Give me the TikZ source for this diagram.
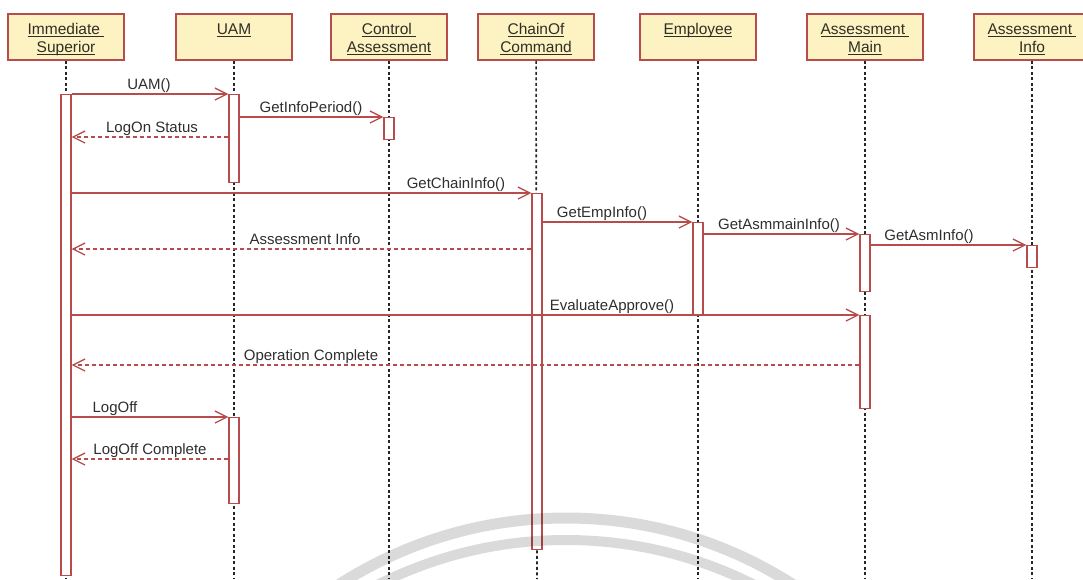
\documentclass[tikz,border=0pt]{standalone}
\usepackage{fontspec}
\setmainfont{Liberation Sans}
\usetikzlibrary{arrows.meta}
\definecolor{umlred}{HTML}{B84B4B}
\definecolor{hdrfill}{HTML}{FDF3C2}
\definecolor{ink}{HTML}{2E2E2E}
\definecolor{hdrink}{HTML}{2F2F26}
\definecolor{lifeink}{HTML}{262626}
\definecolor{wmgray}{HTML}{DADADA}
% underline that sits just under the baseline
\newcommand\ulx[1]{\setbox0=\hbox{#1}\rlap{\vrule height -1.4pt depth 2.6pt width \wd0}\box0}
\newcommand\hdrtop{\rule{0pt}{18pt}}
\begin{document}
\begin{tikzpicture}[x=1pt,y=-1pt,
  hdr/.style={draw=umlred, line width=1.6pt, fill=hdrfill, minimum width=116pt,
    minimum height=46pt, inner sep=0pt, align=center,
    font=\fontsize{15.5}{18}\selectfont, text=hdrink},
  life/.style={draw=lifeink, line width=1.6pt, dash pattern=on 3pt off 2.5pt},
  bar/.style={draw=umlred, line width=1.2pt, fill=white, minimum width=10pt,
    inner sep=0pt, anchor=north},
  msg/.style={draw=umlred, line width=1.3pt, -{Straight Barb[length=12pt,width=12pt]}},
  ret/.style={msg, dash pattern=on 4pt off 3pt},
  lbl/.style={font=\fontsize{15}{18}\selectfont, text=ink, inner sep=0pt, anchor=base},
]
\useasboundingbox (0,0) rectangle (1083,579);
\clip (0,0) rectangle (1083,579);

% participants
\node[hdr] (is)  at (66,37)   {\hdrtop\ulx{Immediate\ }\\\ulx{Superior}\strut};
\node[hdr] (uam) at (234,37)  {\hdrtop\ulx{UAM}\\\strut};
\node[hdr] (ctl) at (389,37)  {\hdrtop\ulx{Control\ }\\\ulx{Assessment}\strut};
\node[hdr] (ch)  at (536,37)  {\hdrtop\ulx{ChainOf}\\\ulx{Command}\strut};
\node[hdr] (emp) at (698,37)  {\hdrtop\ulx{Employee}\\\strut};
\node[hdr] (am)  at (865,37)  {\hdrtop\ulx{Assessment\ }\\\ulx{Main}\strut};
\node[hdr] (ai)  at (1032,37) {\hdrtop\ulx{Assessment\ }\\\ulx{Info}\strut};

% lifeline ends
\coordinate (isEnd)  at (66,579);
\coordinate (uamEnd) at (234,579);
\coordinate (ctlEnd) at (389,579);
\coordinate (chEnd)  at (537,579);
\coordinate (empEnd) at (698,579);
\coordinate (amEnd)  at (865,579);
\coordinate (aiEnd)  at (1032,579);
\foreach \p in {is,uam,ctl,ch,emp,am,ai}
  \draw[life] (\p) -- (\p End);

% activation bars
\node[bar, minimum height=481pt] (isA)  at (66,94)   {};
\node[bar, minimum height=88pt]  (uamA) at (234,94)  {};
\node[bar, minimum height=22pt]  (ctlA) at (389,117) {};
\node[bar, minimum height=356pt] (chA)  at (537,193) {};
\node[bar, minimum height=93pt]  (empA) at (698,222) {};
\node[bar, minimum height=57pt]  (amA)  at (865,234) {};
\node[bar, minimum height=22pt]  (aiA)  at (1032,245) {};
\node[bar, minimum height=93pt]  (amB)  at (865,315) {};
\node[bar, minimum height=86pt]  (uamB) at (234,417) {};

% rows of the reply messages
\coordinate (rLogOn) at (0,137);
\coordinate (rInfo)  at (0,249);
\coordinate (rOper)  at (0,365);
\coordinate (rOff)   at (0,459);

% messages
\draw[msg] (isA.east |- uamA.north) -- (uamA.north west);
\draw[msg] (uamA.east |- ctlA.north) -- (ctlA.north west);
\draw[ret] (uamA.west |- rLogOn) -- (isA.east |- rLogOn);
\draw[msg] (isA.east |- chA.north) -- (chA.north west);
\draw[msg] (chA.east |- empA.north) -- (empA.north west);
\draw[ret] (chA.west |- rInfo) -- (isA.east |- rInfo);
\draw[msg] (empA.east |- amA.north) -- (amA.north west);
\draw[msg] (amA.east |- aiA.north) -- (aiA.north west);
\draw[msg] (isA.east |- amB.north) -- (amB.north west);
\draw[ret] (amB.west |- rOper) -- (isA.east |- rOper);
\draw[msg] (isA.east |- uamB.north) -- (uamB.north west);
\draw[ret] (uamB.west |- rOff) -- (isA.east |- rOff);

% message labels
\node[lbl] (t1)  at (149,89.5) {UAM()};
\node[lbl] (t2)  at (311,112.5) {GetInfoPeriod()};
\node[lbl] (t3)  at (152,132.5) {LogOn Status};
\node[lbl] (t4)  at (456,188.5) {GetChainInfo()};
\node[lbl] (t5)  at (602,217.5) {GetEmpInfo()};
\node[lbl] (t6)  at (305,244.5) {Assessment Info};
\node[lbl] (t7)  at (779,229.5) {GetAsmmainInfo()};
\node[lbl] (t8)  at (929,240.5) {GetAsmInfo()};
\node[lbl] (t9)  at (612,310.5) {EvaluateApprove()};
\node[lbl] (t10) at (311,360.5) {Operation Complete};
\node[lbl] (t11) at (115,412.5) {LogOff};
\node[lbl] (t12) at (150,454.5) {LogOff Complete};

% faint ring mark at the bottom
\begin{scope}[blend mode=multiply]
  \draw[wmgray, line width=11pt] (566,938) circle[radius=420];
  \draw[wmgray, line width=10pt] (566,957) circle[radius=417];
\end{scope}
\end{tikzpicture}
\end{document}
